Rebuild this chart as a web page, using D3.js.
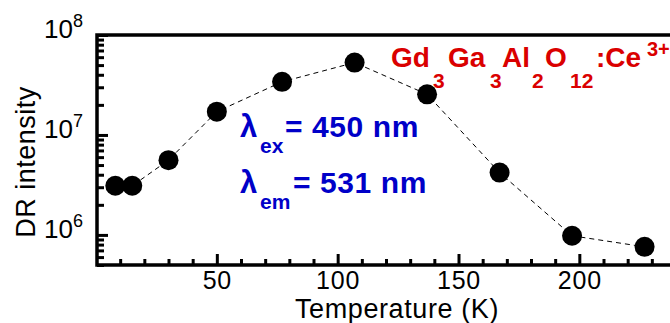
<!DOCTYPE html>
<html lang="en">
<head>
<meta charset="utf-8">
<title>DR intensity vs temperature</title>
<script src="https://d3js.org/d3.v7.min.js"></script>
<style>
  body { margin: 0; background: #fff; }
  svg { display: block; font-family: Arial, "Liberation Sans", Helvetica, sans-serif; }
</style>
</head>
<body>
<div id="chart"></div>
<script>
// data
const temperature = [8, 15, 30, 50, 77, 107, 137, 167, 197, 227];
const intensity = [3.1e6, 3.1e6, 5.6e6, 1.71e7, 3.4e7, 5.3e7, 2.55e7, 4.2e6, 9.8e5, 7.6e5];
const xTicks = [50, 100, 150, 200];
const xMinor = d3.range(10, 240, 10).filter(d => d % 50 !== 0);
const yTicks = [1e6, 1e7, 1e8];
const yExp = ["6", "7", "8"];

const width = 670, height = 323;
const x = d3.scaleLinear().domain([0, 240]).range([96, 676]);
const y = d3.scaleLog().domain([5e5, 1e8]).range([265, 35]);

const yMinor = [];
[1e5, 1e6, 1e7].forEach(dec => {
  for (let k = 2; k <= 9; k++) {
    const v = dec * k;
    if (v >= 5e5 && v < 1e8) yMinor.push(v);
  }
});

const svg = d3.select("#chart").append("svg")
  .attr("width", width).attr("height", height);

// x axis ticks (inward)
svg.append("g")
  .attr("transform", "translate(0,265)")
  .call(d3.axisBottom(x).tickValues(xMinor).tickSize(-6).tickFormat(""))
  .call(g => g.select(".domain").remove())
  .call(g => g.selectAll("line").attr("stroke-width", 3));

svg.append("g")
  .attr("transform", "translate(0,265)")
  .call(d3.axisBottom(x).tickValues(xTicks).tickSize(-11).tickPadding(6.5))
  .call(g => g.select(".domain").remove())
  .call(g => g.selectAll("line").attr("stroke-width", 3))
  .call(g => g.selectAll("text").attr("font-size", 25).attr("letter-spacing", 0.8)
    .attr("fill", "#000").attr("font-family", null));

// y axis ticks (inward)
svg.append("g")
  .attr("transform", "translate(97,0)")
  .call(d3.axisLeft(y).tickValues(yMinor).tickSize(-7).tickFormat(""))
  .call(g => g.select(".domain").remove())
  .call(g => g.selectAll("line").attr("stroke-width", 3));

svg.append("g")
  .attr("transform", "translate(97,0)")
  .call(d3.axisLeft(y).tickValues(yTicks).tickSize(-11).tickFormat(""))
  .call(g => g.select(".domain").remove())
  .call(g => g.selectAll("line").attr("stroke-width", 3));

// y tick labels as 10^n
const yl = svg.append("g").selectAll("text")
  .data(yTicks)
  .join("text")
  .attr("x", 83)
  .attr("y", d => y(d) + 3)
  .attr("text-anchor", "end")
  .attr("font-size", 26);
yl.append("tspan").text("10");
yl.append("tspan").attr("font-size", 18).attr("dy", -11).text((d, i) => yExp[i]);

// frame: left, bottom, top
svg.append("path")
  .attr("d", `M${width},35H97V265H${width}`)
  .attr("fill", "none")
  .attr("stroke", "#000")
  .attr("stroke-width", 3.5);

// dashed line and markers
const line = d3.line().x((d, i) => x(temperature[i])).y(d => y(d));
svg.append("path")
  .datum(intensity)
  .attr("d", line)
  .attr("fill", "none")
  .attr("stroke", "#000")
  .attr("stroke-width", 1)
  .attr("stroke-dasharray", "5,4");

svg.append("g").selectAll("circle")
  .data(intensity)
  .join("circle")
  .attr("cx", (d, i) => x(temperature[i]))
  .attr("cy", d => y(d))
  .attr("r", 10)
  .attr("fill", "#000");

// axis titles
svg.append("text")
  .attr("x", 397).attr("y", 318)
  .attr("text-anchor", "middle")
  .attr("font-size", 27)
  .attr("letter-spacing", 0.6)
  .text("Temperature (K)");

svg.append("text")
  .attr("transform", "translate(35,162) rotate(-90)")
  .attr("text-anchor", "middle")
  .attr("font-size", 27)
  .attr("letter-spacing", 0.5)
  .text("DR intensity");

// compound label: [text, x, baseline, size]
const red = "#da0000";
const compParts = [
  ["Gd", 391, 67, 28], ["3", 433, 88, 21], ["Ga", 448, 67, 28], ["3", 490, 88, 21],
  ["Al", 502, 67, 28], ["2", 532, 88, 21], ["O", 545, 67, 28], ["12", 570, 88, 21],
  [":Ce", 596, 67, 28], ["3+", 647, 56, 20]
];
const comp = svg.append("text")
  .attr("fill", red)
  .attr("font-weight", "bold");
comp.selectAll("tspan")
  .data(compParts)
  .join("tspan")
  .attr("x", d => d[1])
  .attr("y", d => d[2])
  .attr("font-size", d => d[3])
  .text(d => d[0]);

// excitation / emission labels
const blue = "#0000c8";
[["ex", "= 450 nm", 137, 285], ["em", "= 531 nm", 193, 293]].forEach(([sub, rest, base, x0]) => {
  const t = svg.append("text")
    .attr("fill", blue)
    .attr("font-weight", "bold");
  t.append("tspan").attr("x", 240).attr("y", base).attr("font-size", 31).text("λ");
  t.append("tspan").attr("x", 260).attr("y", base + 16).attr("font-size", 21).text(sub);
  t.append("tspan").attr("x", x0).attr("y", base).attr("font-size", 30)
    .attr("letter-spacing", 0.6).text(rest);
});
</script>
</body>
</html>
